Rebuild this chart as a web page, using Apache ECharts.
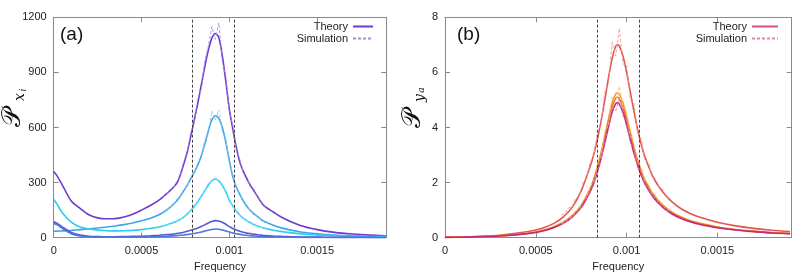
<!DOCTYPE html>
<html><head><meta charset="utf-8">
<script src="https://cdn.jsdelivr.net/npm/echarts@6/dist/echarts.min.js"></script>
<style>html,body{margin:0;padding:0;background:#fff}#c{width:797px;height:276px}</style>
</head><body><div id="c"></div>
<script>
// frequency in units of 1e-3 (tick labels shown as true values)
const xTickLabels = ['0', '0.0005', '0.001', '0.0015'];
const yTicksA = [0, 300, 600, 900, 1200];
const yTicksB = [0, 2, 4, 6, 8];
const dashA = [0.79, 1.026];
const dashB = [0.837, 1.072];

// ---- panel (a): theory curves ----
const freqA = [0,0.02,0.05,0.1,0.15,0.2,0.25,0.3,0.35,0.4,0.45,0.5,0.55,0.6,0.65,0.7,0.72,0.74,0.76,0.78,0.8,0.82,0.84,0.86,0.88,0.9,0.92,0.94,0.96,0.98,1.0,1.02,1.04,1.06,1.08,1.1,1.12,1.14,1.16,1.18,1.2,1.25,1.3,1.4,1.5,1.6,1.7,1.8,1.89];
const purpleA = [360,335,285,200,160,125,108,103,104,113,128,150,175,205,245,295,340,400,465,550,640,730,830,930,1020,1085,1112,1090,990,850,700,590,490,410,360,320,285,255,225,195,172,140,110,68,44,29,20,14,11];
const skyA = [35,36,37,40,44,48,53,58,64,71,80,92,106,125,155,200,225,255,285,320,355,395,445,510,580,640,664,650,600,520,420,330,275,235,200,170,148,130,115,100,88,68,52,32,21,14,10,8,7];
const cyanA = [210,180,135,85,58,47,41,38,37,38,40,44,50,58,72,90,100,112,128,148,170,195,225,255,285,310,318,310,285,250,205,172,145,122,105,92,81,72,64,58,52,41,33,22,15,11,8,6,5];
const slateA = [87,78,58,28,14,8,6,5,5,6,7,8,10,13,17,23,26,30,35,40,46,53,61,70,80,88,93,91,84,73,60,50,42,35,30,25,22,19,16,14,12,9,7,4,3,2,2,1.5,1];
const royalA = [78,70,50,22,10,5,3.5,3,3,3,3.5,4,5,6.5,8.5,11.5,13,15,17.5,20,23,27,31,36,41,45,47,46,42,37,31,26,22,18,15,13,11,9.5,8,7,6,4.5,3.5,2,1.5,1,1,0.8,0.5];
// ---- panel (a): simulation curves ----
const simFreqA = [0.62,0.64,0.66,0.68,0.7,0.72,0.74,0.76,0.78,0.8,0.82,0.84,0.86,0.88,0.9,0.92,0.94,0.96,0.98,1.0,1.02,1.04,1.06,1.08,1.1,1.12,1.14,1.16,1.18,1.2,1.22];
const purpleSimA = [222,230,262,268,305,330,418,452,575,620,760,805,960,1040,1150,1080,1170,960,880,680,610,475,425,350,330,275,265,220,200,168,165];
const skySimA = [135,140,168,175,210,218,265,278,335,345,410,430,530,565,690,640,695,580,535,405,345,265,245,192,178,142,136,110,104,84,82];
const cyanSimA = [60,70,72,86,88,104,108,134,142,178,188,236,248,300,305,335,300,295,240,212,165,150,118,108,88,84,70,66,56,54,48];

// ---- panel (b): theory curves ----
const freqB = [0,0.1,0.2,0.3,0.4,0.5,0.55,0.6,0.65,0.7,0.75,0.8,0.82,0.84,0.86,0.88,0.9,0.92,0.94,0.95,0.96,0.98,1.0,1.02,1.04,1.06,1.08,1.1,1.15,1.2,1.25,1.3,1.35,1.4,1.5,1.6,1.7,1.8,1.9];
const redB = [0.02,0.03,0.05,0.09,0.17,0.28,0.38,0.52,0.75,1.1,1.7,2.6,3.05,3.6,4.25,5.0,5.8,6.5,6.95,7.0,6.95,6.6,6.0,5.3,4.6,3.95,3.4,2.95,2.15,1.65,1.3,1.05,0.88,0.75,0.56,0.43,0.34,0.27,0.22];
const orangeB = [0.01,0.02,0.04,0.07,0.12,0.21,0.29,0.4,0.56,0.8,1.18,1.8,2.15,2.6,3.1,3.7,4.3,4.9,5.22,5.25,5.2,4.9,4.4,3.85,3.3,2.85,2.45,2.12,1.55,1.18,0.93,0.75,0.62,0.53,0.39,0.3,0.24,0.19,0.16];
const darkOrangeB = [0.01,0.02,0.04,0.07,0.12,0.2,0.28,0.39,0.54,0.78,1.14,1.75,2.1,2.52,3.0,3.6,4.2,4.75,5.07,5.1,5.05,4.75,4.27,3.74,3.2,2.77,2.38,2.06,1.5,1.14,0.9,0.73,0.6,0.51,0.38,0.29,0.23,0.18,0.15];
const magentaB = [0.01,0.02,0.04,0.06,0.11,0.19,0.26,0.37,0.52,0.75,1.1,1.68,2.0,2.42,2.9,3.45,4.02,4.55,4.87,4.9,4.85,4.56,4.1,3.58,3.08,2.65,2.28,1.97,1.44,1.1,0.86,0.7,0.58,0.49,0.36,0.28,0.22,0.17,0.14];
// ---- panel (b): simulation curves ----
const simFreqB = [0.64,0.66,0.68,0.7,0.72,0.74,0.76,0.78,0.8,0.82,0.84,0.86,0.88,0.9,0.92,0.94,0.96,0.98,1.0,1.02,1.04,1.06,1.08,1.1,1.12,1.14,1.16,1.18,1.2,1.22,1.24];
const redSimB = [0.82,0.88,1.08,1.12,1.45,1.52,2.0,2.15,2.75,3.0,3.85,4.1,5.3,5.6,7.1,6.6,7.6,6.3,6.3,5.0,4.9,3.8,3.6,2.8,2.75,2.2,2.15,1.8,1.75,1.5,1.42];
const orangeSimB = [0.55,0.58,0.72,0.76,0.98,1.05,1.35,1.45,1.85,2.05,2.7,2.95,3.85,4.1,5.1,4.95,5.5,4.75,4.55,3.7,3.45,2.75,2.55,2.05,1.95,1.62,1.55,1.3,1.25,1.08,1.02];
const magentaSimB = [0.5,0.54,0.68,0.7,0.92,0.98,1.28,1.36,1.72,1.92,2.5,2.8,3.6,3.9,4.75,4.6,5.05,4.4,4.25,3.45,3.2,2.55,2.38,1.9,1.82,1.5,1.45,1.2,1.16,1.0,0.96];

const FONT = "'Liberation Sans', Arial, sans-serif";
const zip = (xs, ys) => xs.map((x, i) => [x, ys[i]]);

function theory(name, xs, ys, color, xi, yi, extra) {
  return Object.assign({
    name, type: 'line', xAxisIndex: xi, yAxisIndex: yi, data: zip(xs, ys),
    symbol: 'none', smooth: 0.3, color,
    lineStyle: { color, width: 1.6 }, z: 3
  }, extra || {});
}
function sim(name, xs, ys, color, xi, yi) {
  return {
    name, type: 'line', xAxisIndex: xi, yAxisIndex: yi, data: zip(xs, ys),
    symbol: 'none', color,
    lineStyle: { color, width: 0.9, type: [3, 2] }, z: 4
  };
}
function dashMark(vals) {
  return {
    silent: true, symbol: ['none', 'none'], label: { show: false },
    lineStyle: { color: '#444', width: 1, type: [3, 2] },
    data: vals.map(v => ({ xAxis: v }))
  };
}

const axisGrey = '#8a8a8a';
function xAx(gi, max, show) {
  return {
    type: 'value', gridIndex: gi, min: 0, max, interval: 0.5, position: show ? 'bottom' : 'top',
    axisLine: { show: true, onZero: false, lineStyle: { color: axisGrey, width: 1 } },
    axisTick: { show: true, inside: true, length: 5, lineStyle: { color: axisGrey } },
    axisLabel: { show: show, color: '#222', fontSize: 11, fontFamily: FONT, margin: 8, showMaxLabel: false,
      formatter: v => xTickLabels[Math.round(v / 0.5)] || '' },
    splitLine: { show: false },
    name: show ? 'Frequency' : '', nameLocation: 'middle', nameGap: 23,
    nameTextStyle: { color: '#222', fontSize: 11, fontFamily: FONT }
  };
}
function yAx(gi, ticks, show) {
  return {
    type: 'value', gridIndex: gi, min: ticks[0], max: ticks[ticks.length - 1], interval: ticks[1] - ticks[0],
    position: show ? 'left' : 'right',
    axisLine: { show: true, onZero: false, lineStyle: { color: axisGrey, width: 1 } },
    axisTick: { show: true, inside: true, length: 5, lineStyle: { color: axisGrey } },
    axisLabel: { show: show, color: '#222', fontSize: 11, fontFamily: FONT, margin: 7, formatter: v => String(v) },
    splitLine: { show: false }
  };
}

const legendCommon = {
  orient: 'vertical', align: 'right', top: 21, itemHeight: 8, itemGap: 1, padding: 0,
  itemStyle: { opacity: 0, borderWidth: 0 },
  textStyle: { fontSize: 11, fontFamily: FONT, color: '#222', lineHeight: 10 }
};

const option = {
  animation: false,
  backgroundColor: '#fff',
  grid: [
    { left: 53.7, top: 17.3, width: 332.5, height: 220.4, containLabel: false, outerBoundsMode: 'none' },
    { left: 445, top: 17.3, width: 346.7, height: 220.4, containLabel: false, outerBoundsMode: 'none' }
  ],
  xAxis: [xAx(0, 1.893, true), xAx(0, 1.893, false), xAx(1, 1.909, true), xAx(1, 1.909, false)],
  yAxis: [yAx(0, yTicksA, true), yAx(0, yTicksA, false), yAx(1, yTicksB, true), yAx(1, yTicksB, false)],
  legend: [
    Object.assign({}, legendCommon, { data: ['Theory', 'Simulation'], right: 423, itemWidth: 20 }),
    Object.assign({}, legendCommon, { data: ['Theory ', 'Simulation '], right: 18, itemWidth: 26, formatter: n => n.trim() })
  ],
  graphic: [
    { type: 'text', left: 60, top: 25, style: { text: '(a)', font: '19px ' + FONT, fill: '#111' } },
    { type: 'text', left: 457, top: 25, style: { text: '(b)', font: '19px ' + FONT, fill: '#111' } },
    { type: 'group', x: 13, y: 117, rotation: Math.PI / 2, children: [
      { type: 'text', x: 0, y: 0, style: { text: '𝒫', font: '26px "DejaVu Serif", serif', fill: '#111', align: 'center', verticalAlign: 'middle' } },
      { type: 'text', x: 20, y: 7, style: { text: 'x', font: 'italic 14px "DejaVu Serif", serif', fill: '#111', align: 'center', verticalAlign: 'middle' } },
      { type: 'text', x: 27, y: 11, style: { text: 'i', font: 'italic 9px "DejaVu Serif", serif', fill: '#111', align: 'center', verticalAlign: 'middle' } }
    ] },
    { type: 'group', x: 413, y: 118, rotation: Math.PI / 2, children: [
      { type: 'text', x: 0, y: 0, style: { text: '𝒫', font: '26px "DejaVu Serif", serif', fill: '#111', align: 'center', verticalAlign: 'middle' } },
      { type: 'text', x: 20, y: 7, style: { text: 'y', font: 'italic 14px "DejaVu Serif", serif', fill: '#111', align: 'center', verticalAlign: 'middle' } },
      { type: 'text', x: 28, y: 9, style: { text: 'a', font: 'italic 9px "DejaVu Serif", serif', fill: '#111', align: 'center', verticalAlign: 'middle' } }
    ] }
  ],
  series: [
    theory('Theory', freqA, purpleA, '#6b3cc9', 0, 0, { markLine: dashMark(dashA) }),
    theory('Theory', freqA, skyA, '#3fa6e6', 0, 0),
    theory('Theory', freqA, cyanA, '#2ccdf4', 0, 0),
    theory('Theory', freqA, slateA, '#5757d2', 0, 0),
    theory('Theory', freqA, royalA, '#4a78e0', 0, 0),
    sim('Simulation', simFreqA, purpleSimA, '#a588e6', 0, 0),
    sim('Simulation', simFreqA, skySimA, '#86c8f2', 0, 0),
    sim('Simulation', simFreqA, cyanSimA, '#86e2fa', 0, 0),

    { name: 'Theory ', type: 'line', xAxisIndex: 2, yAxisIndex: 2, data: [], color: '#d6537a', lineStyle: { color: '#d6537a', width: 1.6 }, symbol: 'none' },
    { name: 'Simulation ', type: 'line', xAxisIndex: 2, yAxisIndex: 2, data: [], color: '#e28aa0', lineStyle: { color: '#e28aa0', width: 0.9, type: [3, 2] }, symbol: 'none' },
    theory('Theory ', freqB, redB, '#e0574f', 2, 2, { markLine: dashMark(dashB) }),
    theory('Theory ', freqB, orangeB, '#f0a235', 2, 2),
    theory('Theory ', freqB, darkOrangeB, '#e8782c', 2, 2),
    theory('Theory ', freqB, magentaB, '#c52a78', 2, 2),
    sim('Simulation ', simFreqB, redSimB, '#ee9a94', 2, 2),
    sim('Simulation ', simFreqB, orangeSimB, '#f6c67c', 2, 2),
    sim('Simulation ', simFreqB, magentaSimB, '#e07cae', 2, 2)
  ]
};
const chart = echarts.init(document.getElementById('c'), null, { renderer: 'canvas' });
chart.setOption(option);
</script></body></html>
